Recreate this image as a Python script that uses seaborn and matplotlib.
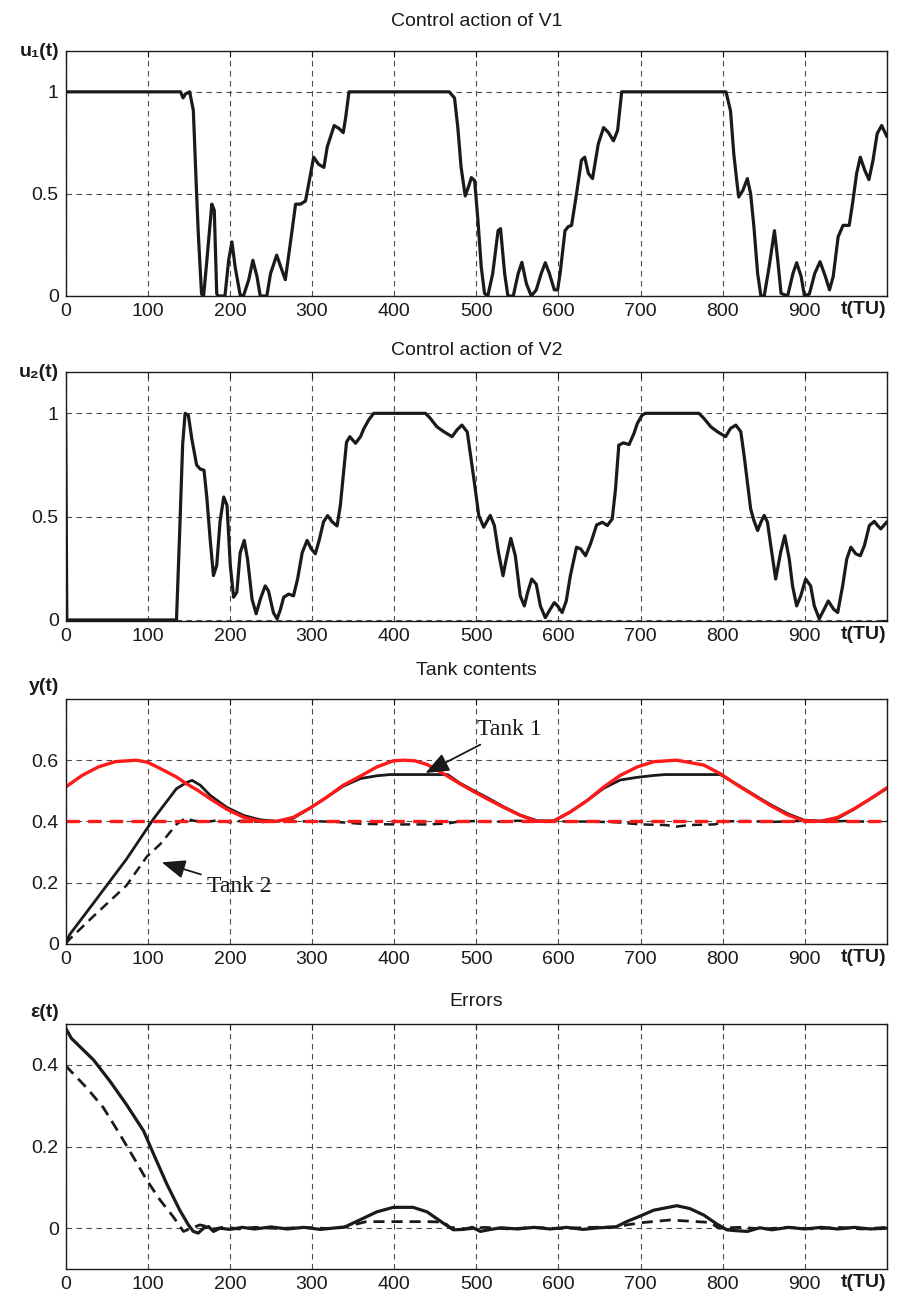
import numpy as np
import matplotlib
matplotlib.use("Agg")
import matplotlib.pyplot as plt
import seaborn as sns

# ---- data ----
u1_t = [0, 140, 143, 146, 151, 155.5, 159.5, 161.5, 165.5, 168, 172, 178, 181, 184, 186, 194,
        198.5, 202.5, 206.5, 212.5, 216.5, 223, 228, 233, 237, 245, 249.5, 257, 263.5, 267.5,
        274, 280, 286, 292, 296, 302, 308, 314.5, 318.5, 327, 333, 338, 341, 345, 467,
        473.5, 477.5, 481.5, 486.5, 490.5, 494, 498, 502, 506, 510, 514, 520, 526.5, 529.5,
        534.5, 538.5, 545, 551, 555.5, 561, 567, 573, 579, 584, 589, 595, 599, 602, 608, 612,
        616, 622, 628, 632, 636.5, 641.5, 648.5, 655, 661, 667, 672, 677, 804, 809.5, 813.5,
        817.5, 819.5, 824.5, 830, 834, 838, 842.5, 846.5, 850.5, 856.5, 863, 867, 871, 879,
        885.5, 890, 895.5, 899.5, 905.5, 912, 918.5, 925, 930, 934.5, 940.5, 946.5, 954,
        958.5, 963, 967.5, 973, 978, 983, 988, 993.5, 1000]
u1 = [1, 1, 0.97, 0.99, 1, 0.91, 0.50, 0.31, 0.01, 0, 0.175, 0.45, 0.42, 0.01, 0, 0,
      0.175, 0.265, 0.14, 0.005, 0, 0.08, 0.175, 0.095, 0, 0, 0.11, 0.2, 0.125, 0.08,
      0.27, 0.45, 0.45, 0.465, 0.55, 0.68, 0.645, 0.63, 0.73, 0.835, 0.82, 0.80, 0.875, 1, 1,
      0.97, 0.825, 0.63, 0.49, 0.535, 0.58, 0.565, 0.37, 0.143, 0.013, 0, 0.11, 0.32, 0.33,
      0.11, 0, 0, 0.11, 0.165, 0.06, 0, 0.03, 0.11, 0.163, 0.11, 0.03, 0.03, 0.11, 0.32, 0.34,
      0.346, 0.5, 0.665, 0.68, 0.6, 0.575, 0.745, 0.825, 0.8, 0.76, 0.81, 1, 1, 0.907, 0.695,
      0.55, 0.485, 0.517, 0.575, 0.5, 0.338, 0.11, 0, 0, 0.143, 0.32, 0.175, 0.013, 0,
      0.11, 0.163, 0.095, 0, 0.01, 0.11, 0.168, 0.095, 0.03, 0.095, 0.29, 0.346, 0.346,
      0.465, 0.6, 0.68, 0.615, 0.57, 0.665, 0.795, 0.835, 0.78]

u2_t = [0, 1.5, 135, 139, 142.5, 145.5, 149.5, 153.5, 159.5, 164, 168.5, 172, 176, 180, 184,
        188, 192.5, 196.5, 200.5, 204.5, 208.5, 212.5, 217.5, 221.5, 227, 232, 237, 243, 247,
        253, 257.5, 261.5, 265.5, 271.5, 277.5, 282.5, 288, 294, 299, 304, 309, 314, 319,
        324.5, 330.5, 334.5, 338.5, 342, 346, 353, 359, 363, 369, 375, 438, 444, 452, 460.5,
        470.5, 476.5, 482.5, 489, 493, 497, 503, 509, 517, 522, 527, 532.5, 536.5, 542, 547.5,
        553.5, 558.5, 562.5, 567.5, 573, 578, 584, 590, 595, 599, 604.5, 609.5, 614.5, 622,
        627, 633, 639, 646.5, 653.5, 659.5, 665.5, 669.5, 673.5, 679, 686, 692, 696, 702, 706,
        771, 777, 785.5, 793.5, 803.5, 809.5, 816, 822, 826, 830, 834, 838, 842.5, 846.5,
        850.5, 854.5, 858.5, 864.5, 870.5, 875.5, 881, 885, 890, 895, 901, 907, 911.5, 917.5,
        923.5, 928.5, 935, 940, 946, 951, 956, 962, 967.5, 972.5, 978.5, 984.5, 988.5, 992.5,
        1000]
u2 = [1, 0, 0, 0.44, 0.85, 1, 0.99, 0.88, 0.75, 0.73, 0.725, 0.59, 0.39, 0.215, 0.265,
      0.475, 0.595, 0.555, 0.265, 0.11, 0.135, 0.325, 0.385, 0.295, 0.1, 0.03, 0.1, 0.165, 0.14,
      0.035, 0.005, 0.05, 0.11, 0.125, 0.117, 0.2, 0.325, 0.385, 0.345, 0.32, 0.39, 0.475, 0.505,
      0.475, 0.455, 0.555, 0.715, 0.86, 0.887, 0.855, 0.887, 0.925, 0.968, 1, 1, 0.976, 0.935, 0.911,
      0.887, 0.92, 0.943, 0.91, 0.797, 0.684, 0.506, 0.449, 0.506, 0.457, 0.327, 0.214, 0.295, 0.395, 0.311,
      0.117, 0.068, 0.133, 0.198, 0.173, 0.068, 0.011, 0.052, 0.084, 0.068, 0.036, 0.092, 0.214, 0.352,
      0.344, 0.311, 0.368, 0.46, 0.473, 0.457, 0.489, 0.635, 0.846, 0.857, 0.849, 0.903, 0.951, 0.992, 1,
      1, 0.976, 0.935, 0.911, 0.887, 0.927, 0.943, 0.911, 0.797, 0.668, 0.538, 0.481, 0.433, 0.473,
      0.506, 0.473, 0.36, 0.198, 0.327, 0.408, 0.295, 0.165, 0.068, 0.117, 0.198, 0.165, 0.068, 0.006,
      0.052, 0.092, 0.052, 0.036, 0.165, 0.295, 0.352, 0.32, 0.311, 0.36, 0.457, 0.477, 0.457, 0.441,
      0.475]

ref1_t = [0, 20, 40, 60, 86, 100, 115, 135, 147, 160, 176, 196, 217, 237, 257, 277, 298, 318,
          338, 359, 379, 399, 412, 425, 440, 460, 480, 495, 513, 533, 554, 574, 594, 614, 635,
          655, 675, 696, 716, 744, 777, 797, 818, 838, 858, 879, 899, 919, 940, 960, 980, 1000]
ref1 = [0.512, 0.55, 0.578, 0.595, 0.6, 0.593, 0.573, 0.545, 0.523, 0.503, 0.474, 0.44, 0.413,
        0.4, 0.4, 0.413, 0.444, 0.479, 0.518, 0.548, 0.578, 0.598, 0.6, 0.598, 0.586, 0.556, 0.523,
        0.5, 0.474, 0.446, 0.419, 0.4, 0.401, 0.43, 0.468, 0.512, 0.55, 0.578, 0.595, 0.6, 0.584,
        0.556, 0.518, 0.485, 0.452, 0.421, 0.402, 0.4, 0.413, 0.441, 0.474, 0.51]
ref2_t = [0, 1000]
ref2 = [0.4, 0.4]

y1_t = [0, 5, 34, 74, 107, 135, 148, 154, 164, 176, 196, 217, 237, 257, 277, 298, 318, 338,
        359, 379, 395, 465, 480, 495, 513, 533, 554, 574, 594, 614, 635, 655, 675, 696, 716,
        730, 797, 818, 838, 858, 879, 899, 919, 940, 960, 980, 1000]
y1 = [0, 0.03, 0.133, 0.276, 0.408, 0.507, 0.528, 0.534, 0.518, 0.485, 0.446, 0.419, 0.405,
      0.4, 0.41, 0.444, 0.479, 0.515, 0.54, 0.549, 0.553, 0.553, 0.525, 0.503, 0.478, 0.448,
      0.42, 0.402, 0.401, 0.43, 0.468, 0.508, 0.535, 0.544, 0.55, 0.553, 0.553, 0.52, 0.487,
      0.455, 0.425, 0.404, 0.401, 0.41, 0.44, 0.474, 0.508]

y2_t = [0, 5, 34, 74, 99, 115, 135, 145.5, 156, 170, 185, 200, 215, 240, 260, 280, 300, 330,
        360, 400, 440, 465, 480, 500, 520, 550, 580, 610, 640, 670, 700, 730, 744, 760, 790,
        805, 830, 860, 890, 920, 950, 975, 1000]
y2 = [0, 0.015, 0.09, 0.19, 0.285, 0.325, 0.39, 0.41, 0.402, 0.398, 0.403, 0.397, 0.402,
      0.398, 0.401, 0.399, 0.401, 0.398, 0.392, 0.39, 0.39, 0.393, 0.4, 0.401, 0.398, 0.402,
      0.399, 0.4, 0.399, 0.397, 0.39, 0.388, 0.383, 0.388, 0.39, 0.4, 0.401, 0.398, 0.401,
      0.399, 0.401, 0.399, 0.4]

e1_t = [0, 7, 34, 54, 74, 95, 107, 123, 139, 149.5, 155.5, 161.5, 168, 174, 180, 188, 200, 215,
        230, 250, 270, 290, 310, 330, 340, 358, 379, 399, 423, 440, 460, 472, 485, 495, 505,
        515, 530, 550, 570, 590, 610, 630, 650, 670, 683, 700, 716, 744, 760, 777, 793, 805,
        815, 830, 845, 860, 880, 900, 920, 940, 960, 980, 1000]
e1 = [0.49, 0.465, 0.412, 0.36, 0.303, 0.238, 0.182, 0.109, 0.044, 0.008, -0.008, -0.012, 0,
      0.004, -0.008, 0, -0.003, 0.002, -0.002, 0.003, -0.002, 0.002, -0.003, 0.001, 0.003, 0.02,
      0.04, 0.051, 0.051, 0.04, 0.012, -0.004, -0.003, 0.002, -0.008, -0.004, 0.001, -0.002,
      0.002, -0.002, 0.002, -0.003, 0.001, 0.003, 0.016, 0.03, 0.044, 0.055, 0.048, 0.032, 0.01,
      -0.004, -0.006, -0.008, 0.001, -0.004, 0.002, -0.002, 0.002, -0.002, 0.002, -0.002, 0.0]

e2_t = [0, 26, 46, 66, 82.5, 99, 115, 131, 143.5, 153.5, 163.5, 172, 180, 195, 210, 230, 260,
        290, 320, 338, 366, 400, 440, 460, 468, 490, 510, 540, 570, 600, 640, 670, 683, 704,
        736, 752, 785, 795, 820, 850, 880, 910, 940, 970, 1000]
e2 = [0.398, 0.343, 0.295, 0.23, 0.174, 0.117, 0.069, 0.028, -0.008, 0, 0.008, 0.004, -0.002,
      0.003, -0.002, 0.002, -0.001, 0.002, -0.001, 0.002, 0.016, 0.016, 0.016, 0.015, 0.002,
      -0.002, 0.002, -0.002, 0.002, -0.001, 0.002, 0.003, 0.008, 0.014, 0.02, 0.018, 0.014, 0,
      0.002, -0.002, 0.002, -0.002, 0.002, -0.002, 0.002]

x_ticks = list(range(0, 1001, 100))
x_ticklabels = [str(v) for v in range(0, 901, 100)] + [""]

sns.set_theme(style="white")
plt.rcParams["font.family"] = ["Liberation Sans", "DejaVu Sans"]
plt.rcParams["text.color"] = "k"
plt.rcParams["axes.labelcolor"] = "k"
plt.rcParams["xtick.color"] = "k"
plt.rcParams["ytick.color"] = "k"

fig = plt.figure(figsize=(8.98, 13.04), dpi=100)
H = 1304.0
left = 65.6 / 898
width = (887 - 65.6) / 898
# (top px, bottom px) of each panel
boxes = [(51, 296), (372, 621), (699, 943.7), (1024, 1269)]
axes = [fig.add_axes([left, 1 - b / H, width, (b - t) / H]) for t, b in boxes]

grid_kw = dict(color="0.3", linestyle=(0, (5, 4)), linewidth=0.8)


def style(ax, ylim, yticks, yticklabels, title, pad, ylabel, lab_dy):
    ax.set_xlim(0, 1000)
    ax.set_ylim(*ylim)
    ax.set_xticks(x_ticks)
    ax.set_xticklabels(x_ticklabels)
    ax.set_yticks(yticks)
    ax.set_yticklabels(yticklabels)
    ax.grid(True, **grid_kw)
    ax.set_axisbelow(True)
    ax.tick_params(direction="in", length=4, width=0.8, labelsize=14, pad=5,
                   top=True, right=True, colors="k")
    for s in ax.spines.values():
        s.set_color("k")
        s.set_linewidth(1.0)
    ax.set_xlabel("")
    ax.set_ylabel("")
    ax.set_title(title, fontsize=14, pad=pad, color="k")
    ax.text(-0.008, 1.0 + lab_dy, ylabel, transform=ax.transAxes, ha="right", va="center",
            fontsize=14, fontweight="bold")
    ax.text(0.972, -0.022, "t(TU)", transform=ax.transAxes, ha="center", va="top",
            fontsize=14, fontweight="bold")


ax1, ax2, ax3, ax4 = axes

sns.lineplot(x=u1_t, y=u1, ax=ax1, color="k", lw=2.3, estimator=None, sort=False)
style(ax1, (0, 1.2), [0, 0.5, 1], ["0", "0.5", "1"], "Control action of V1", 18,
      "u\u2081(t)", 0.0)

sns.lineplot(x=u2_t, y=u2, ax=ax2, color="k", lw=2.3, estimator=None, sort=False)
style(ax2, (-0.005, 1.2), [0, 0.5, 1], ["0", "0.5", "1"], "Control action of V2", 12,
      "u\u2082(t)", 0.0)

sns.lineplot(x=y1_t, y=y1, ax=ax3, color="k", lw=2.0, estimator=None, sort=False)
sns.lineplot(x=y2_t, y=y2, ax=ax3, color="k", lw=1.8, linestyle=(0, (4, 2.5)),
             estimator=None, sort=False)
sns.lineplot(x=ref1_t, y=ref1, ax=ax3, color="#ff1a1a", lw=2.4, estimator=None, sort=False)
sns.lineplot(x=ref2_t, y=ref2, ax=ax3, color="#ff1a1a", lw=2.4, linestyle=(0, (4, 2.5)),
             estimator=None, sort=False)
style(ax3, (0, 0.8), [0, 0.2, 0.4, 0.6], ["0", "0.2", "0.4", "0.6"], "Tank contents", 17,
      "y(t)", 0.05)

arrow_kw = dict(arrowstyle="-|>,head_length=0.8,head_width=0.32", color="k", lw=1.3,
                mutation_scale=18, shrinkA=2, shrinkB=0)
ax3.annotate("Tank 1", xy=(438, 0.558), xytext=(501, 0.70), fontsize=17,
             family=["Liberation Serif", "DejaVu Serif"], va="center", ha="left",
             arrowprops=arrow_kw)
ax3.annotate("Tank 2", xy=(117, 0.266), xytext=(172, 0.188), fontsize=17,
             family=["Liberation Serif", "DejaVu Serif"], va="center", ha="left",
             arrowprops=arrow_kw)

sns.lineplot(x=e1_t, y=e1, ax=ax4, color="k", lw=2.3, estimator=None, sort=False)
sns.lineplot(x=e2_t, y=e2, ax=ax4, color="k", lw=2.0, linestyle=(0, (4, 2.5)),
             estimator=None, sort=False)
style(ax4, (-0.1, 0.5), [0, 0.2, 0.4], ["0", "0.2", "0.4"], "Errors", 13,
      "\u03b5(t)", 0.045)

fig.savefig("out.png", dpi=100)
